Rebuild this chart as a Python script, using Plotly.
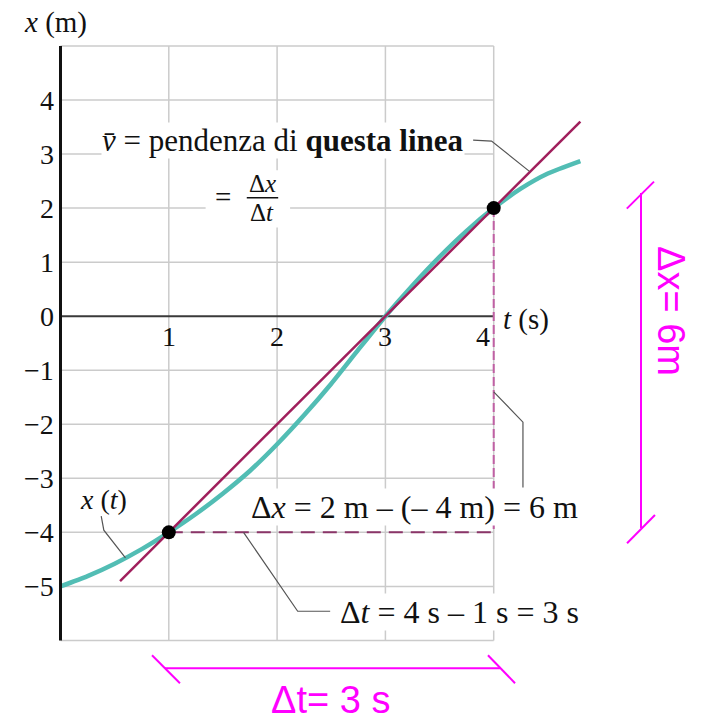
import plotly.graph_objects as go

# ---- data -------------------------------------------------------------
# position of the object along the path, x(t)
t_curve = [0.0, 0.25, 0.5, 0.75, 1.0, 1.25, 1.5, 1.75, 2.0, 2.25, 2.5, 2.75, 3.0, 3.25, 3.5, 3.75, 4.0, 4.25, 4.5, 4.8]
x_curve = [-5.0, -4.81, -4.58, -4.31, -4.0, -3.66, -3.28, -2.86, -2.37, -1.83, -1.25, -0.62, 0.0, 0.57, 1.1, 1.58, 2.0, 2.36, 2.64, 2.87]

# the two instants used for the average velocity
t_points = [1.0, 4.0]
x_points = [-4.0, 2.0]

# extent of the secant line drawn through the two points
secant_t = [0.55, 4.8]

# axis ticks
t_ticks = [1, 2, 3, 4]
t_tick_labels = ["1", "2", "3", "4"]
x_ticks = [4, 3, 2, 1, 0, -1, -2, -3, -4, -5]
x_tick_labels = ["4", "3", "2", "1", "0", "\u22121", "\u22122", "\u22123", "\u22124", "\u22125"]

# grid extent
t_grid = [0, 1, 2, 3, 4]
x_grid = [5, 4, 3, 2, 1, 0, -1, -2, -3, -4, -5, -6]

# ---- styling ----------------------------------------------------------
SERIF = "Liberation Serif, Times New Roman, serif"
SANS = "Liberation Sans, Arial, sans-serif"
TEAL = "#52bdb4"
SECANT = "#a01f5c"
DASH_H = "#8a3568"
DASH_V = "#c060a4"
PINK = "#ff00ff"
GRID = "#cbcbcb"
LEADER = "#555555"
TXT = "#111111"

slope = (x_points[1] - x_points[0]) / (t_points[1] - t_points[0])
secant_x = [x_points[0] + slope * (t - t_points[0]) for t in secant_t]

fig = go.Figure()

# x(t) curve
fig.add_trace(go.Scatter(x=t_curve, y=x_curve, mode="lines",
                         line=dict(color=TEAL, width=4.5, shape="spline", smoothing=0.6),
                         hoverinfo="skip", showlegend=False))
# secant line
fig.add_trace(go.Scatter(x=secant_t, y=secant_x, mode="lines",
                         line=dict(color=SECANT, width=2.5),
                         hoverinfo="skip", showlegend=False))
# dashed construction lines: Δt (horizontal) and Δx (vertical)
fig.add_trace(go.Scatter(x=[t_points[0], t_points[1]], y=[x_points[0], x_points[0]], mode="lines",
                         line=dict(color=DASH_H, width=2, dash="14px,8px"),
                         hoverinfo="skip", showlegend=False))
fig.add_trace(go.Scatter(x=[t_points[1], t_points[1]], y=[x_points[1], x_points[0]], mode="lines",
                         line=dict(color=DASH_V, width=2, dash="9px,4px"),
                         hoverinfo="skip", showlegend=False))
# the two points
fig.add_trace(go.Scatter(x=t_points, y=x_points, mode="markers",
                         marker=dict(color="black", size=14),
                         hoverinfo="skip", showlegend=False))

shapes = []
# grid
for tv in t_grid[1:]:
    shapes.append(dict(type="line", xref="x", yref="y", x0=tv, x1=tv, y0=min(x_grid), y1=max(x_grid),
                       line=dict(color=GRID, width=1.5), layer="below"))
for xv in x_grid:
    if xv == 0:
        continue
    shapes.append(dict(type="line", xref="x", yref="y", x0=0, x1=max(t_grid), y0=xv, y1=xv,
                       line=dict(color=GRID, width=1.5), layer="below"))
# white patch behind the fraction
shapes.append(dict(type="rect", xref="x", yref="y", x0=1.34, x1=2.12, y0=1.64, y1=2.70,
                   fillcolor="white", line=dict(width=0), layer="below"))
# axes
shapes.append(dict(type="line", xref="x", yref="y", x0=0, x1=max(t_grid), y0=0, y1=0,
                   line=dict(color="#3a3a3a", width=2), layer="below"))
shapes.append(dict(type="line", xref="x", yref="y", x0=0, x1=0, y0=min(x_grid), y1=max(x_grid),
                   line=dict(color="#111111", width=3)))
# fraction bar
shapes.append(dict(type="line", xref="x", yref="y", x0=1.72, x1=2.01, y0=2.19, y1=2.19,
                   line=dict(color=TXT, width=1.5)))
# leader lines
for path in ["M 3.81,3.257 L 3.98,3.24 L 4.33,2.68",
             "M 0.376,-3.7 L 0.40,-3.96 L 0.60,-4.47",
             "M 4.0,-1.40 L 4.27,-1.96 L 4.27,-3.17",
             "M 1.69,-4.0 L 2.19,-5.46 L 2.49,-5.46"]:
    shapes.append(dict(type="path", xref="x", yref="y", path=path,
                       line=dict(color=LEADER, width=1.2)))
# pink brackets
shapes += [
    dict(type="line", xref="x", yref="y", x0=5.36, x1=5.36, y0=2.28, y1=-3.92, line=dict(color=PINK, width=2)),
    dict(type="line", xref="x", yref="y", x0=5.229, x1=5.48, y0=1.99, y1=2.49, line=dict(color=PINK, width=2)),
    dict(type="line", xref="x", yref="y", x0=5.231, x1=5.489, y0=-4.2, y1=-3.68, line=dict(color=PINK, width=2)),
    dict(type="line", xref="x", yref="y", x0=0.965, x1=4.058, y0=-6.514, y1=-6.514, line=dict(color=PINK, width=2)),
    dict(type="line", xref="x", yref="y", x0=0.845, x1=1.103, y0=-6.273, y1=-6.791, line=dict(color=PINK, width=2)),
    dict(type="line", xref="x", yref="y", x0=3.947, x1=4.197, y0=-6.273, y1=-6.791, line=dict(color=PINK, width=2)),
]

ann = []
def text(x, y, s, size=24, color=TXT, xanchor="center", bg=None, angle=0, family=SERIF, **kw):
    d = dict(x=x, y=y, xref="x", yref="y", text=s, showarrow=False, xanchor=xanchor, yanchor="middle",
             font=dict(family=family, size=size, color=color), textangle=angle)
    if bg:
        d.update(bgcolor=bg, borderpad=0)
    d.update(kw)
    ann.append(d)

# tick labels
for v, lab in zip(x_ticks, x_tick_labels):
    text(-0.045, v, lab, size=28, xanchor="right")
for v, lab in zip(t_ticks, t_tick_labels):
    text(v, -0.38, lab, size=28, xanchor="right" if v == 4 else "center", xshift=0 if v != 4 else -2)

# axis titles
text(-0.05, 5.43, "<i>x</i> (m)", size=29)
text(4.30, -0.07, "<i>t</i> (s)", size=29, bg="white")

# annotations
text(2.055, 3.257, "<i>v\u0304</i> = pendenza di <b>questa linea</b>", size=31, bg="white")
text(1.50, 2.20, "=", size=29)
text(1.865, 2.46, "\u0394<i>x</i>", size=25)
text(1.865, 1.92, "\u0394<i>t</i>", size=25)
text(0.40, -3.40, "<i>x</i> (<i>t</i>)", size=28, bg="white")
text(3.27, -3.53, "\u0394<i>x</i> = 2 m \u2013 (\u2013 4 m) = 6 m", size=32, bg="white")
text(3.68, -5.48, "\u0394<i>t</i> = 4 s \u2013 1 s = 3 s", size=32, bg="white")

# pink labels
text(2.49, -7.10, "\u0394t= 3 s", size=38, color=PINK, family=SANS)
text(5.63, 0.09, "\u0394x= 6m", size=38, color=PINK, family=SANS, angle=90)

fig.update_layout(
    width=701, height=724,
    margin=dict(l=0, r=0, t=0, b=0),
    paper_bgcolor="white", plot_bgcolor="white",
    xaxis=dict(range=[-0.5586, 5.914], visible=False, fixedrange=True),
    yaxis=dict(range=[-7.546, 5.851], visible=False, fixedrange=True),
    shapes=shapes, annotations=ann, showlegend=False,
)

fig.write_html("out.html")
